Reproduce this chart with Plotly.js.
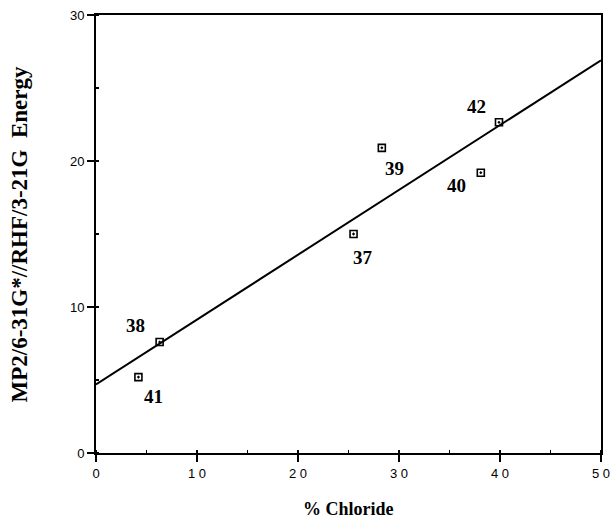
<!DOCTYPE html>
<html>
<head>
<meta charset="utf-8">
<script src="https://cdn.plot.ly/plotly-3.0.1.min.js"></script>
<style>html,body{margin:0;padding:0;background:#fff}#chart{width:610px;height:520px}</style>
</head>
<body>
<div id="chart"></div>
<script>
// Data
const chlorideX = [25.5, 6.3, 28.3, 38.1, 4.2, 39.9];
const energyY   = [15.0, 7.6, 20.9, 19.2, 5.2, 22.65];
const pointLabels = ['37', '38', '39', '40', '41', '42'];
const fitX = [0, 50];
const fitY = [4.7, 26.9];
const xTickVals = [0, 10, 20, 30, 40, 50];
const yTickVals = [0, 10, 20, 30];

// Label offsets in pixels (style/position, not data)
const labelOffsets = [[9, 23], [-24, -17], [13, 21], [-24, 13], [15, 19], [-22, -16]];

const serif = 'Liberation Serif, Times New Roman, serif';
const sans = 'Liberation Sans, Arial, sans-serif';

const traces = [
  {
    x: fitX, y: fitY, type: 'scatter', mode: 'lines',
    line: {color: '#000', width: 2}, hoverinfo: 'skip', showlegend: false
  },
  {
    x: chlorideX, y: energyY, type: 'scatter', mode: 'markers',
    marker: {symbol: 'square-open-dot', size: 7, color: '#000', line: {color: '#000', width: 1.6}},
    text: pointLabels, showlegend: false
  }
];

const annotations = pointLabels.map((t, i) => ({
  x: chlorideX[i], y: energyY[i], xref: 'x', yref: 'y', text: '<b>' + t + '</b>', showarrow: false,
  xshift: labelOffsets[i][0], yshift: -labelOffsets[i][1],
  font: {family: serif, size: 19, color: '#000'}
}));
annotations.push({
  x: 0.5, y: 0, xref: 'paper', yref: 'paper', text: '<b>% Chloride</b>', showarrow: false,
  yshift: -68, font: {family: serif, size: 18, color: '#000'}
});
annotations.push({
  x: 0, y: 0.5, xref: 'paper', yref: 'paper', text: '<b>MP2/6-31G*//RHF/3-21G  Energy</b>', showarrow: false,
  xshift: -92, textangle: -90, font: {family: serif, size: 23, color: '#000'}
});

const layout = {
  width: 610, height: 520,
  margin: {l: 96, r: 9, t: 15, b: 67},
  paper_bgcolor: '#fff', plot_bgcolor: '#fff',
  showlegend: false,
  xaxis: {
    range: [0, 50], tickvals: xTickVals, ticktext: xTickVals.map(v => String(v).split('').join(' ')),
    ticks: 'outside', ticklen: 7, tickwidth: 1.5, tickcolor: '#000',
    ticklabeloverflow: 'allow',
    minor: {ticks: 'inside', dtick: 5, tick0: 0, ticklen: 3, tickwidth: 1.2, tickcolor: '#000'},
    showgrid: false, zeroline: false,
    showline: true, linecolor: '#000', linewidth: 2, mirror: true,
    tickfont: {family: sans, size: 13, color: '#000'}
  },
  yaxis: {
    range: [0, 30], tickvals: yTickVals,
    ticks: 'outside', ticklen: 7, tickwidth: 1.5, tickcolor: '#000',
    minor: {ticks: 'inside', dtick: 5, tick0: 0, ticklen: 3, tickwidth: 1.2, tickcolor: '#000'},
    showgrid: false, zeroline: false,
    showline: true, linecolor: '#000', linewidth: 2, mirror: true,
    tickfont: {family: sans, size: 13, color: '#000'}
  },
  annotations: annotations
};

Plotly.newPlot('chart', traces, layout, {staticPlot: true});
</script>
</body>
</html>
